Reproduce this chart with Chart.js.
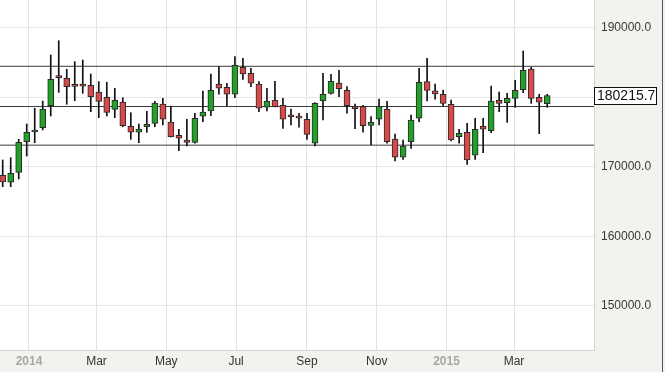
<!DOCTYPE html>
<html><head><meta charset="utf-8">
<script src="https://cdn.jsdelivr.net/npm/chart.js@4.4.1/dist/chart.umd.min.js"></script>
<style>html,body{margin:0;padding:0;background:#fff;}canvas{display:block;}</style>
</head><body>
<canvas id="c" width="665" height="372"></canvas>
<script>
const weeks = [
 '2013-12-09','2013-12-16','2013-12-23','2013-12-30',
 '2014-01-06','2014-01-13','2014-01-20','2014-01-27',
 '2014-02-03','2014-02-10','2014-02-17','2014-02-24',
 '2014-03-03','2014-03-10','2014-03-17','2014-03-24','2014-03-31',
 '2014-04-07','2014-04-14','2014-04-21','2014-04-28',
 '2014-05-05','2014-05-12','2014-05-19','2014-05-26',
 '2014-06-02','2014-06-09','2014-06-16','2014-06-23','2014-06-30',
 '2014-07-07','2014-07-14','2014-07-21','2014-07-28',
 '2014-08-04','2014-08-11','2014-08-18','2014-08-25',
 '2014-09-01','2014-09-08','2014-09-15','2014-09-22','2014-09-29',
 '2014-10-06','2014-10-13','2014-10-20','2014-10-27',
 '2014-11-03','2014-11-10','2014-11-17','2014-11-24',
 '2014-12-01','2014-12-08','2014-12-15','2014-12-22','2014-12-29',
 '2015-01-05','2015-01-12','2015-01-19','2015-01-26',
 '2015-02-02','2015-02-09','2015-02-16','2015-02-23',
 '2015-03-02','2015-03-09','2015-03-16','2015-03-23','2015-03-30'
];
const opens = [
 168770,167770,169200,173600,174990,175610,178770,182990,182700,181560,
 181890,181700,180740,179980,178250,179300,175810,174950,175750,176240,
 179010,176430,174520,173840,173510,177250,178010,181890,181410,180410,
 184280,183420,181890,178540,179540,178830,177200,177010,176820,173370,
 179490,180550,182030,180980,178630,178630,175950,176820,178290,173990,
 171360,173600,176960,182220,180920,180410,178970,174320,174950,171650,
 175810,175180,179540,179200,179830,181070,184040,179980,179060
];
const highs = [
 170970,171300,173940,176140,178400,179440,186050,188100,184000,185090,
 185330,183320,182220,182130,181270,179920,177760,176140,177960,179400,
 179830,178730,175380,176820,177680,180880,183320,184370,181990,185810,
 185580,184140,182220,181270,182270,179830,178290,177680,177680,179200,
 183420,183280,183850,181500,179010,178830,177190,179730,179400,174700,
 173840,177430,184140,185580,181890,181020,179590,175380,176240,176960,
 176960,181600,180740,180550,182420,186630,184280,180410,180410
];
const lows = [
 167140,167140,168240,171540,173450,175280,177290,180690,178970,179490,
 180550,177910,177050,177290,177050,175750,173940,173450,174950,175750,
 176000,174270,172310,172980,173370,176470,177330,180410,178770,179920,
 182560,181500,177910,178010,178600,175520,175990,175670,173940,172980,
 176710,180410,180060,177680,175470,174950,173120,176000,173370,170830,
 171070,172650,176470,179440,179690,178730,173700,173370,170350,171070,
 172020,174890,177910,176380,178540,180640,179110,174750,178540
];
const closes = [
 167810,169060,173510,174950,175280,178290,182560,182790,181500,181540,
 181560,180060,179400,177820,179540,175900,174950,175420,176100,179160,
 176820,174320,174090,173510,176960,177860,180980,181270,180410,184570,
 183320,181990,178400,179400,178630,176820,177180,176990,174660,179110,
 180410,182270,181210,178770,178340,175900,176380,178680,173600,171360,
 172980,176710,182130,180980,180450,179110,173840,174800,170970,175380,
 175380,179440,179110,179830,180980,183850,179830,179260,180215.7
];
const levels = [184430, 178650, 173100];
const yTicks = [150000, 160000, 170000, 180000, 190000];
const xTickDates = ['2014-01-01','2014-03-01','2014-05-01','2014-07-01','2014-09-01','2014-11-01','2015-01-01','2015-03-01'];
const xTickLabels = ['2014','Mar','May','Jul','Sep','Nov','2015','Mar'];
const lastPrice = 180215.7;

const DAY = 86400000, BASE = Date.UTC(2014,0,1);
const dayNum = s => { const p = s.split('-').map(Number); return (Date.UTC(p[0],p[1]-1,p[2]) - BASE) / DAY; };
const xs = weeks.map(dayNum);
const xMin = -25.35, xMax = 493.9;
const up = closes.map((c,i) => c >= opens[i]);
const GREEN = '#22a02a', RED = '#d84a4a';
const FONT = 'Liberation Sans, Arial, sans-serif';

const bgPlugin = {
  id: 'bg',
  beforeDraw(chart) {
    const {ctx, chartArea: a, width, height} = chart;
    ctx.save();
    ctx.fillStyle = '#f4f2ee';
    ctx.fillRect(0, 0, width, height);
    ctx.fillStyle = '#ffffff';
    ctx.fillRect(a.left, a.top, a.right - a.left, a.bottom - a.top);
    ctx.restore();
  },
  afterDraw(chart) {
    const {ctx, chartArea: a, height} = chart;
    const y = Math.round(chart.scales.y.getPixelForValue(lastPrice));
    ctx.save();
    ctx.fillStyle = '#ffffff';
    ctx.fillRect(a.right + 0.5, y - 8.5, 62, 17);
    ctx.strokeStyle = '#111';
    ctx.lineWidth = 1;
    ctx.strokeRect(a.right + 0.5, y - 8.5, 62, 17);
    ctx.fillStyle = '#111';
    ctx.font = '14px ' + FONT;
    ctx.textBaseline = 'middle';
    ctx.textAlign = 'left';
    ctx.fillText(lastPrice.toFixed(1), a.right + 3, y + 0.5);
    ctx.strokeStyle = '#555';
    ctx.beginPath();
    ctx.moveTo(662.5, 0); ctx.lineTo(662.5, height);
    ctx.stroke();
    ctx.restore();
  }
};

const zeroPad = s => { s.paddingTop = 0; s.paddingBottom = 0; s.paddingLeft = 0; s.paddingRight = 0; };

new Chart(document.getElementById('c'), {
  type: 'bar',
  data: {
    datasets: [
      {
        label: 'body',
        data: xs.map((x,i) => ({x, y: [opens[i], closes[i]]})),
        backgroundColor: up.map(u => u ? GREEN : RED),
        borderColor: '#2a2a2a',
        borderWidth: 1,
        borderSkipped: false,
        barThickness: 6,
        minBarLength: 2,
        grouped: false
      },
      {
        label: 'wick',
        data: xs.map((x,i) => ({x, y: [lows[i], highs[i]]})),
        backgroundColor: '#111',
        borderWidth: 0,
        barThickness: 1,
        grouped: false
      },
      ...levels.map(L => ({
        type: 'line',
        label: 'level',
        data: [{x: xMin, y: L}, {x: xMax, y: L}],
        borderColor: '#3a3a3a',
        borderWidth: 1,
        pointRadius: 0,
        fill: false
      }))
    ]
  },
  options: {
    responsive: false,
    animation: false,
    devicePixelRatio: 1,
    layout: {padding: 0},
    plugins: {legend: {display: false}, tooltip: {enabled: false}},
    scales: {
      x: {
        type: 'linear',
        min: xMin, max: xMax,
        offset: false,
        grid: {color: '#e2e2e2', drawTicks: false, offset: false},
        border: {display: true, color: '#d4d4d4'},
        afterBuildTicks: s => { s.ticks = xTickDates.map(d => ({value: dayNum(d)})); },
        afterFit: s => { s.height = 22; zeroPad(s); },
        ticks: {
          autoSkip: false, maxRotation: 0, padding: 4,
          callback: (v, i) => xTickLabels[i],
          color: c => /^\d{4}$/.test(xTickLabels[c.index]) ? '#a6a6a6' : '#333',
          font: c => ({family: FONT, size: 12, weight: /^\d{4}$/.test(xTickLabels[c.index]) ? 'bold' : 'normal'})
        }
      },
      y: {
        type: 'linear',
        position: 'right',
        min: 143680, max: 193950,
        grid: {color: '#e8e8e8', drawTicks: false},
        border: {display: true, color: '#d4d4d4'},
        afterBuildTicks: s => { s.ticks = yTicks.map(v => ({value: v})); },
        afterFit: s => { s.width = 71; zeroPad(s); },
        ticks: {
          padding: 7,
          color: '#3a3a3a',
          font: {family: FONT, size: 12},
          callback: v => Number(v).toFixed(1)
        }
      }
    }
  },
  plugins: [bgPlugin]
});
</script>
</body></html>
